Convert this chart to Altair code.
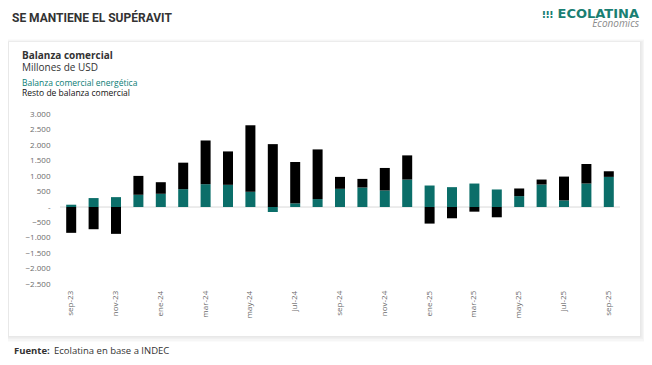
import altair as alt
import pandas as pd

meses = ["sep-23", "oct-23", "nov-23", "dic-23", "ene-24", "feb-24", "mar-24", "abr-24",
         "may-24", "jun-24", "jul-24", "ago-24", "sep-24", "oct-24", "nov-24", "dic-24",
         "ene-25", "feb-25", "mar-25", "abr-25", "may-25", "jun-25", "jul-25", "ago-25", "sep-25"]
energia = [75, 290, 320, 396, 428, 578, 739, 718, 493, -161, 118, 257, 589, 632, 536, 889,
           696, 643, 760, 568, 353, 728, 214, 760, 975]
resto = [-835, -718, -868, 611, 375, 857, 1414, 1081, 2152, 2035, 1339, 1607, 386, 278, 728, 782,
         -536, -364, -150, -332, 247, 161, 771, 632, 182]
series = ["Balanza comercial energética", "Resto de balanza comercial"]
colores = ["#0b6e69", "#000000"]
etiquetas_x = meses[::2]
ticks_y = [-2500, -2000, -1500, -1000, -500, 0, 500, 1000, 1500, 2000, 2500, 3000]

rows = []
for i, m in enumerate(meses):
    rows.append({"mes": m, "serie": series[0], "valor": energia[i], "orden": 0})
    rows.append({"mes": m, "serie": series[1], "valor": resto[i], "orden": 1})
df = pd.DataFrame(rows)

OX, OY = 60.0, 114.3  # page position of plot origin
W, H = 560, 170
FONT = "Open Sans"


def px(x):
    return x - OX


def py(y):
    return y - OY


one = alt.Data(values=[{}])


def rect(x1, y1, x2, y2, color, opacity=1.0):
    return alt.Chart(one).mark_rect(color=color, opacity=opacity).encode(
        x=alt.value(px(x1)), x2=alt.value(px(x2)), y=alt.value(py(y1)), y2=alt.value(py(y2)))


def text(x, y, s, size, color="#333333", weight="normal", align="left", style="normal", font=FONT):
    return alt.Chart(one).mark_text(
        text=s, fontSize=size, color=color, fontWeight=weight, align=align, baseline="alphabetic",
        fontStyle=style, font=font).encode(x=alt.value(px(x)), y=alt.value(py(y)))


# card with soft shadow
shadow = [
    rect(9 - 4, 42 - 3, 640 + 5, 336 + 6, "#000000", 0.015),
    rect(9 - 3, 42 - 2, 640 + 4, 336 + 5, "#000000", 0.02),
    rect(9 - 2, 42 - 1, 640 + 3, 336 + 3, "#000000", 0.025),
    rect(9 - 1, 42 - 0.5, 640 + 1.5, 336 + 1.5, "#000000", 0.03),
]
card = rect(9, 42, 640, 336, "#ffffff")

y_axis = alt.Axis(values=ticks_y, labelFontSize=8, labelColor="#6b6b6b", labelFont=FONT,
                  labelPadding=10, ticks=False, domain=False, grid=False, zindex=1,
                  labelOverlap=False, labelFlush=False, title=None,
                  labelExpr="datum.value == 0 ? '-' : replace(format(datum.value, ','), ',', '.')")
y_scale = alt.Scale(domain=[-2500, 3000], nice=False, zero=False)

zero = alt.Chart(alt.Data(values=[{"valor": 0}])).mark_rule(color="#d9d9d9", strokeWidth=1).encode(
    y=alt.Y("valor:Q", axis=y_axis, scale=y_scale, title=None), x=alt.value(0), x2=alt.value(W))

bars = alt.Chart(df).mark_bar(size=10).encode(
    x=alt.X("mes:N", sort=meses, title=None,
            scale=alt.Scale(paddingInner=0.55, paddingOuter=0.275),
            axis=alt.Axis(values=etiquetas_x, labelAngle=270, labelFontSize=8, labelColor="#6b6b6b",
                          labelFont=FONT, labelPadding=6, ticks=False, domain=False, grid=False,
                          labelOverlap=False, zindex=1)),
    y=alt.Y("valor:Q", title=None, stack="zero", scale=y_scale, axis=y_axis),
    color=alt.Color("serie:N", scale=alt.Scale(domain=series, range=colores), legend=None),
    order=alt.Order("orden:Q", sort="ascending"),
)

texts = [
    text(12, 21.5, "SE MANTIENE EL SUPÉRAVIT", 12, "#333333", "bold", font="Roboto"),
    text(542, 17.5, "⁝⁝⁝", 10, "#1a7f73", "bold", font="DejaVu Sans"),
    text(639, 17.5, "ECOLATINA", 13, "#1a7f73", "bold", align="right", font="DejaVu Sans"),
    text(639, 27, "Economics", 10, "#8a8a8a", "normal", align="right", style="italic"),
    text(22, 58.5, "Balanza comercial", 10, "#333333", "bold"),
    text(22, 70.5, "Millones de USD", 10, "#333333"),
    text(22, 86, "Balanza comercial energética", 8.5, "#0b7d75"),
    text(22, 96, "Resto de balanza comercial", 8.5, "#111111"),
    text(14, 353.5, "Fuente:", 9.5, "#333333", "bold"),
    text(54, 353.5, "Ecolatina en base a INDEC", 9.5, "#333333"),
]

chart = alt.layer(*shadow, card, zero, bars, *texts).properties(
    width=W, height=H,
    autosize=alt.AutoSizeParams(type="none"),
    padding={"left": OX - 8, "top": OY - 8, "right": 636 - (OX - 8) - W, "bottom": 347 - (OY - 8) - H},
    background="#ffffff",
).configure_view(stroke=None).configure_axis(labelOverlap=False)

chart.save("out.html", embed_options={"renderer": "svg", "actions": False})
